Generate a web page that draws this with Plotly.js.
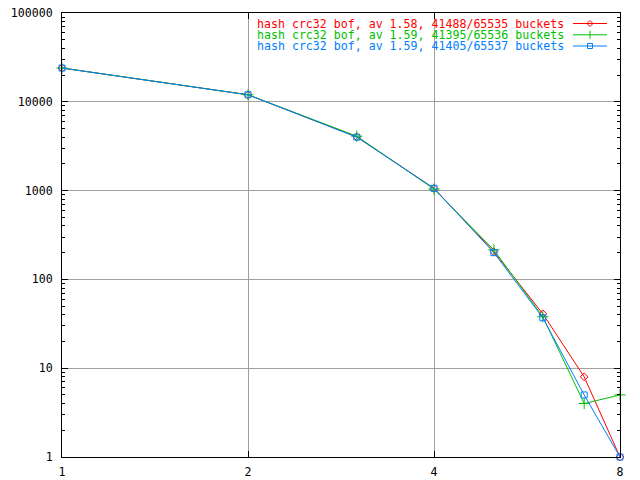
<!DOCTYPE html>
<html>
<head>
<meta charset="utf-8">
<script src="https://cdn.plot.ly/plotly-3.0.1.min.js"></script>
<style>html,body{margin:0;padding:0;background:#fff;}#chart{width:640px;height:480px;}</style>
</head>
<body>
<div id="chart"></div>
<script>
// Data
const chainLength = [1, 2, 3, 4, 5, 6, 7, 8];
const redCounts   = [24000, 12000, 4030, 1060, 205, 41, 8, 1];
const greenCounts = [24000, 12000, 4100, 1040, 215, 38, 4, 5];
const blueCounts  = [24000, 12000, 4000, 1060, 200, 37, 5, 1];
const seriesNames = [
  "hash crc32 bof, av 1.58, 41488/65535 buckets",
  "hash crc32 bof, av 1.59, 41395/65536 buckets",
  "hash crc32 bof, av 1.59, 41405/65537 buckets"
];
const xTickVals = [1, 2, 4, 8];
const xTickText = ["1", "2", "4", "8"];
const yTickVals = [1, 10, 100, 1000, 10000, 100000];
const yTickText = ["1", "10", "100", "1000", "10000", "100000"];

const colors = ["#ff0000", "#00c000", "#0080ff"];
const symbols = ["diamond-open", "cross-thin-open", "square-open"];
const sizes = [6, 8, 6];
const allSeries = [redCounts, greenCounts, blueCounts];

const FONT = "DejaVu Sans Mono, Liberation Mono, monospace";

const traces = allSeries.map((vals, i) => ({
  type: "scatter",
  mode: "lines+markers",
  x: chainLength,
  y: vals,
  name: seriesNames[i],
  line: {color: colors[i], width: 1},
  marker: {symbol: symbols[i], size: sizes[i], color: colors[i], line: {color: colors[i], width: 1}},
  cliponaxis: false,
  showlegend: false
}));

// plot area in pixels
const L = 62, R = 620, T = 13, B = 457;
const px = p => (p - L) / (R - L);
const py = p => (B - p) / (B - T);

const annotations = [];
const shapes = [];
const rowsY = [23.5, 34.8, 46];
const textRight = 566, sampleL = 573, sampleR = 607, markC = 590;
seriesNames.forEach((name, i) => {
  annotations.push({
    xref: "paper", yref: "paper", x: px(textRight), y: py(rowsY[i]),
    xanchor: "right", yanchor: "middle", showarrow: false,
    text: name, font: {family: FONT, size: 11.6, color: colors[i]}
  });
  shapes.push({type: "line", xref: "paper", yref: "paper",
    x0: px(sampleL), x1: px(sampleR), y0: py(rowsY[i]), y1: py(rowsY[i]),
    line: {color: colors[i], width: 1}});
});
// legend sample markers
// red diamond
shapes.push({type: "path", xref: "paper", yref: "paper",
  path: `M ${px(markC-3)} ${py(rowsY[0])} L ${px(markC)} ${py(rowsY[0]-3)} L ${px(markC+3)} ${py(rowsY[0])} L ${px(markC)} ${py(rowsY[0]+3)} Z`,
  line: {color: colors[0], width: 1}});
// green cross (vertical bar; horizontal is on the line)
shapes.push({type: "line", xref: "paper", yref: "paper",
  x0: px(markC), x1: px(markC), y0: py(rowsY[1]-4), y1: py(rowsY[1]+4),
  line: {color: colors[1], width: 1}});
// blue square
shapes.push({type: "rect", xref: "paper", yref: "paper",
  x0: px(markC-2.5), x1: px(markC+2.5), y0: py(rowsY[2]-2.5), y1: py(rowsY[2]+2.5),
  line: {color: colors[2], width: 1}, fillcolor: "rgba(0,0,0,0)"});

const layout = {
  width: 640, height: 480,
  margin: {l: L, r: 640 - R, t: T, b: 480 - B, pad: 0},
  paper_bgcolor: "#ffffff", plot_bgcolor: "#ffffff",
  font: {family: FONT, size: 11.6, color: "#000"},
  showlegend: false,
  xaxis: {
    type: "log", range: [0, Math.log10(8)],
    tickmode: "array", tickvals: xTickVals, ticktext: xTickText,
    ticks: "inside", ticklen: 6, tickcolor: "#000", tickwidth: 1,
    showline: true, linecolor: "#000", linewidth: 1, mirror: "ticks",
    showgrid: true, gridcolor: "#a0a0a0", gridwidth: 1,
    zeroline: false, tickfont: {family: FONT, size: 11.6, color: "#000"},
    ticklabelstandoff: 4
  },
  yaxis: {
    type: "log", range: [0, 5],
    tickmode: "array", tickvals: yTickVals, ticktext: yTickText,
    ticks: "inside", ticklen: 6, tickcolor: "#000", tickwidth: 1,
    showline: true, linecolor: "#000", linewidth: 1, mirror: "ticks",
    showgrid: true, gridcolor: "#a0a0a0", gridwidth: 1,
    zeroline: false, tickfont: {family: FONT, size: 11.6, color: "#000"},
    minor: {ticks: "inside", ticklen: 3, tickcolor: "#000", dtick: "D1", showgrid: false},
    ticklabelstandoff: 6
  },
  annotations: annotations,
  shapes: shapes
};

Plotly.newPlot("chart", traces, layout, {staticPlot: true, displayModeBar: false});
</script>
</body>
</html>
